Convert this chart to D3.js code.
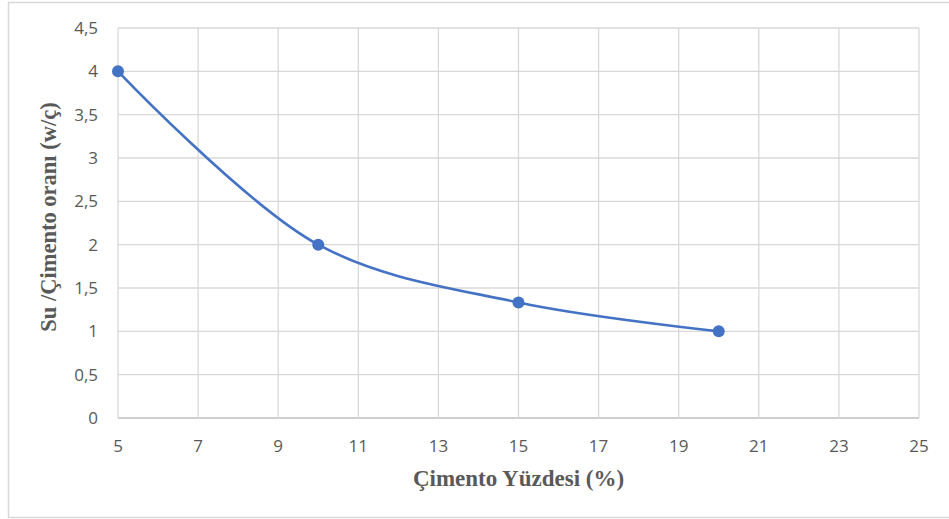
<!DOCTYPE html>
<html><head><meta charset="utf-8">
<script src="https://cdn.jsdelivr.net/npm/d3@7"></script>
<style>body{margin:0;background:#fff}svg{display:block}</style>
</head><body>
<svg id="c" width="949" height="519"></svg>
<script>
const cementPct = [5, 10, 15, 20];
const wcRatio = [4, 2, 1.333, 1];
const xTicks = [5, 7, 9, 11, 13, 15, 17, 19, 21, 23, 25];
const yTicks = [0, 0.5, 1, 1.5, 2, 2.5, 3, 3.5, 4, 4.5];
const xTitle = "Çimento Yüzdesi (%)";
const yTitle = "Su /Çimento oranı (w/ç)";

const svg = d3.select("#c");
const m = {l:118, r:919, t:28, b:418};
const x = d3.scaleLinear().domain([5,25]).range([m.l,m.r]);
const y = d3.scaleLinear().domain([0,4.5]).range([m.b,m.t]);
const fmt = d => String(d).replace(".", ",");

// outer border
svg.append("rect").attr("x",8.5).attr("y",2.5).attr("width",960).attr("height",515)
  .attr("fill","none").attr("stroke","#d9d9d9").attr("stroke-width",1.5);

// grid
svg.append("g").selectAll("line").data(yTicks).join("line")
  .attr("x1",m.l).attr("x2",m.r).attr("y1",d=>y(d)).attr("y2",d=>y(d))
  .attr("stroke",d=>d===0?"#bfbfbf":"#d9d9d9").attr("stroke-width",1.3);
svg.append("g").selectAll("line").data(xTicks).join("line")
  .attr("y1",m.t).attr("y2",m.b).attr("x1",d=>x(d)).attr("x2",d=>x(d))
  .attr("stroke","#d9d9d9").attr("stroke-width",1.3);

// axes labels
const tf = "'Open Sans', sans-serif";
svg.append("g").selectAll("text").data(yTicks).join("text")
  .attr("x",m.l-20).attr("y",d=>y(d)).attr("dy","0.35em").attr("text-anchor","end")
  .attr("font-family",tf).attr("font-size",17).attr("fill","#595959").text(fmt);
svg.append("g").selectAll("text").data(xTicks).join("text")
  .attr("x",d=>x(d)).attr("y",452).attr("text-anchor","middle")
  .attr("font-family",tf).attr("font-size",17).attr("fill","#595959").text(fmt);

// titles
svg.append("text").attr("x",(m.l+m.r)/2).attr("y",486).attr("text-anchor","middle")
  .attr("font-family","'Liberation Serif', serif").attr("font-weight","bold").attr("font-size",23)
  .attr("fill","#595959").text(xTitle);
svg.append("text").attr("transform",`translate(56,${(m.t+m.b)/2 - 6}) rotate(-90)`).attr("text-anchor","middle")
  .attr("font-family","'Liberation Serif', serif").attr("font-weight","bold").attr("font-size",22.5)
  .attr("fill","#595959").text(yTitle);

// line
const pts = cementPct.map((c,i)=>[c,wcRatio[i]]);
const line = d3.line().x(d=>x(d[0])).y(d=>y(d[1])).curve(d3.curveCatmullRom.alpha(0.5));
svg.append("path").datum(pts).attr("d",line).attr("fill","none")
  .attr("stroke","#4472c4").attr("stroke-width",2.6).attr("stroke-linecap","round");
svg.append("g").selectAll("circle").data(pts).join("circle")
  .attr("cx",d=>x(d[0])).attr("cy",d=>y(d[1])).attr("r",6).attr("fill","#4472c4");
</script>
</body></html>
